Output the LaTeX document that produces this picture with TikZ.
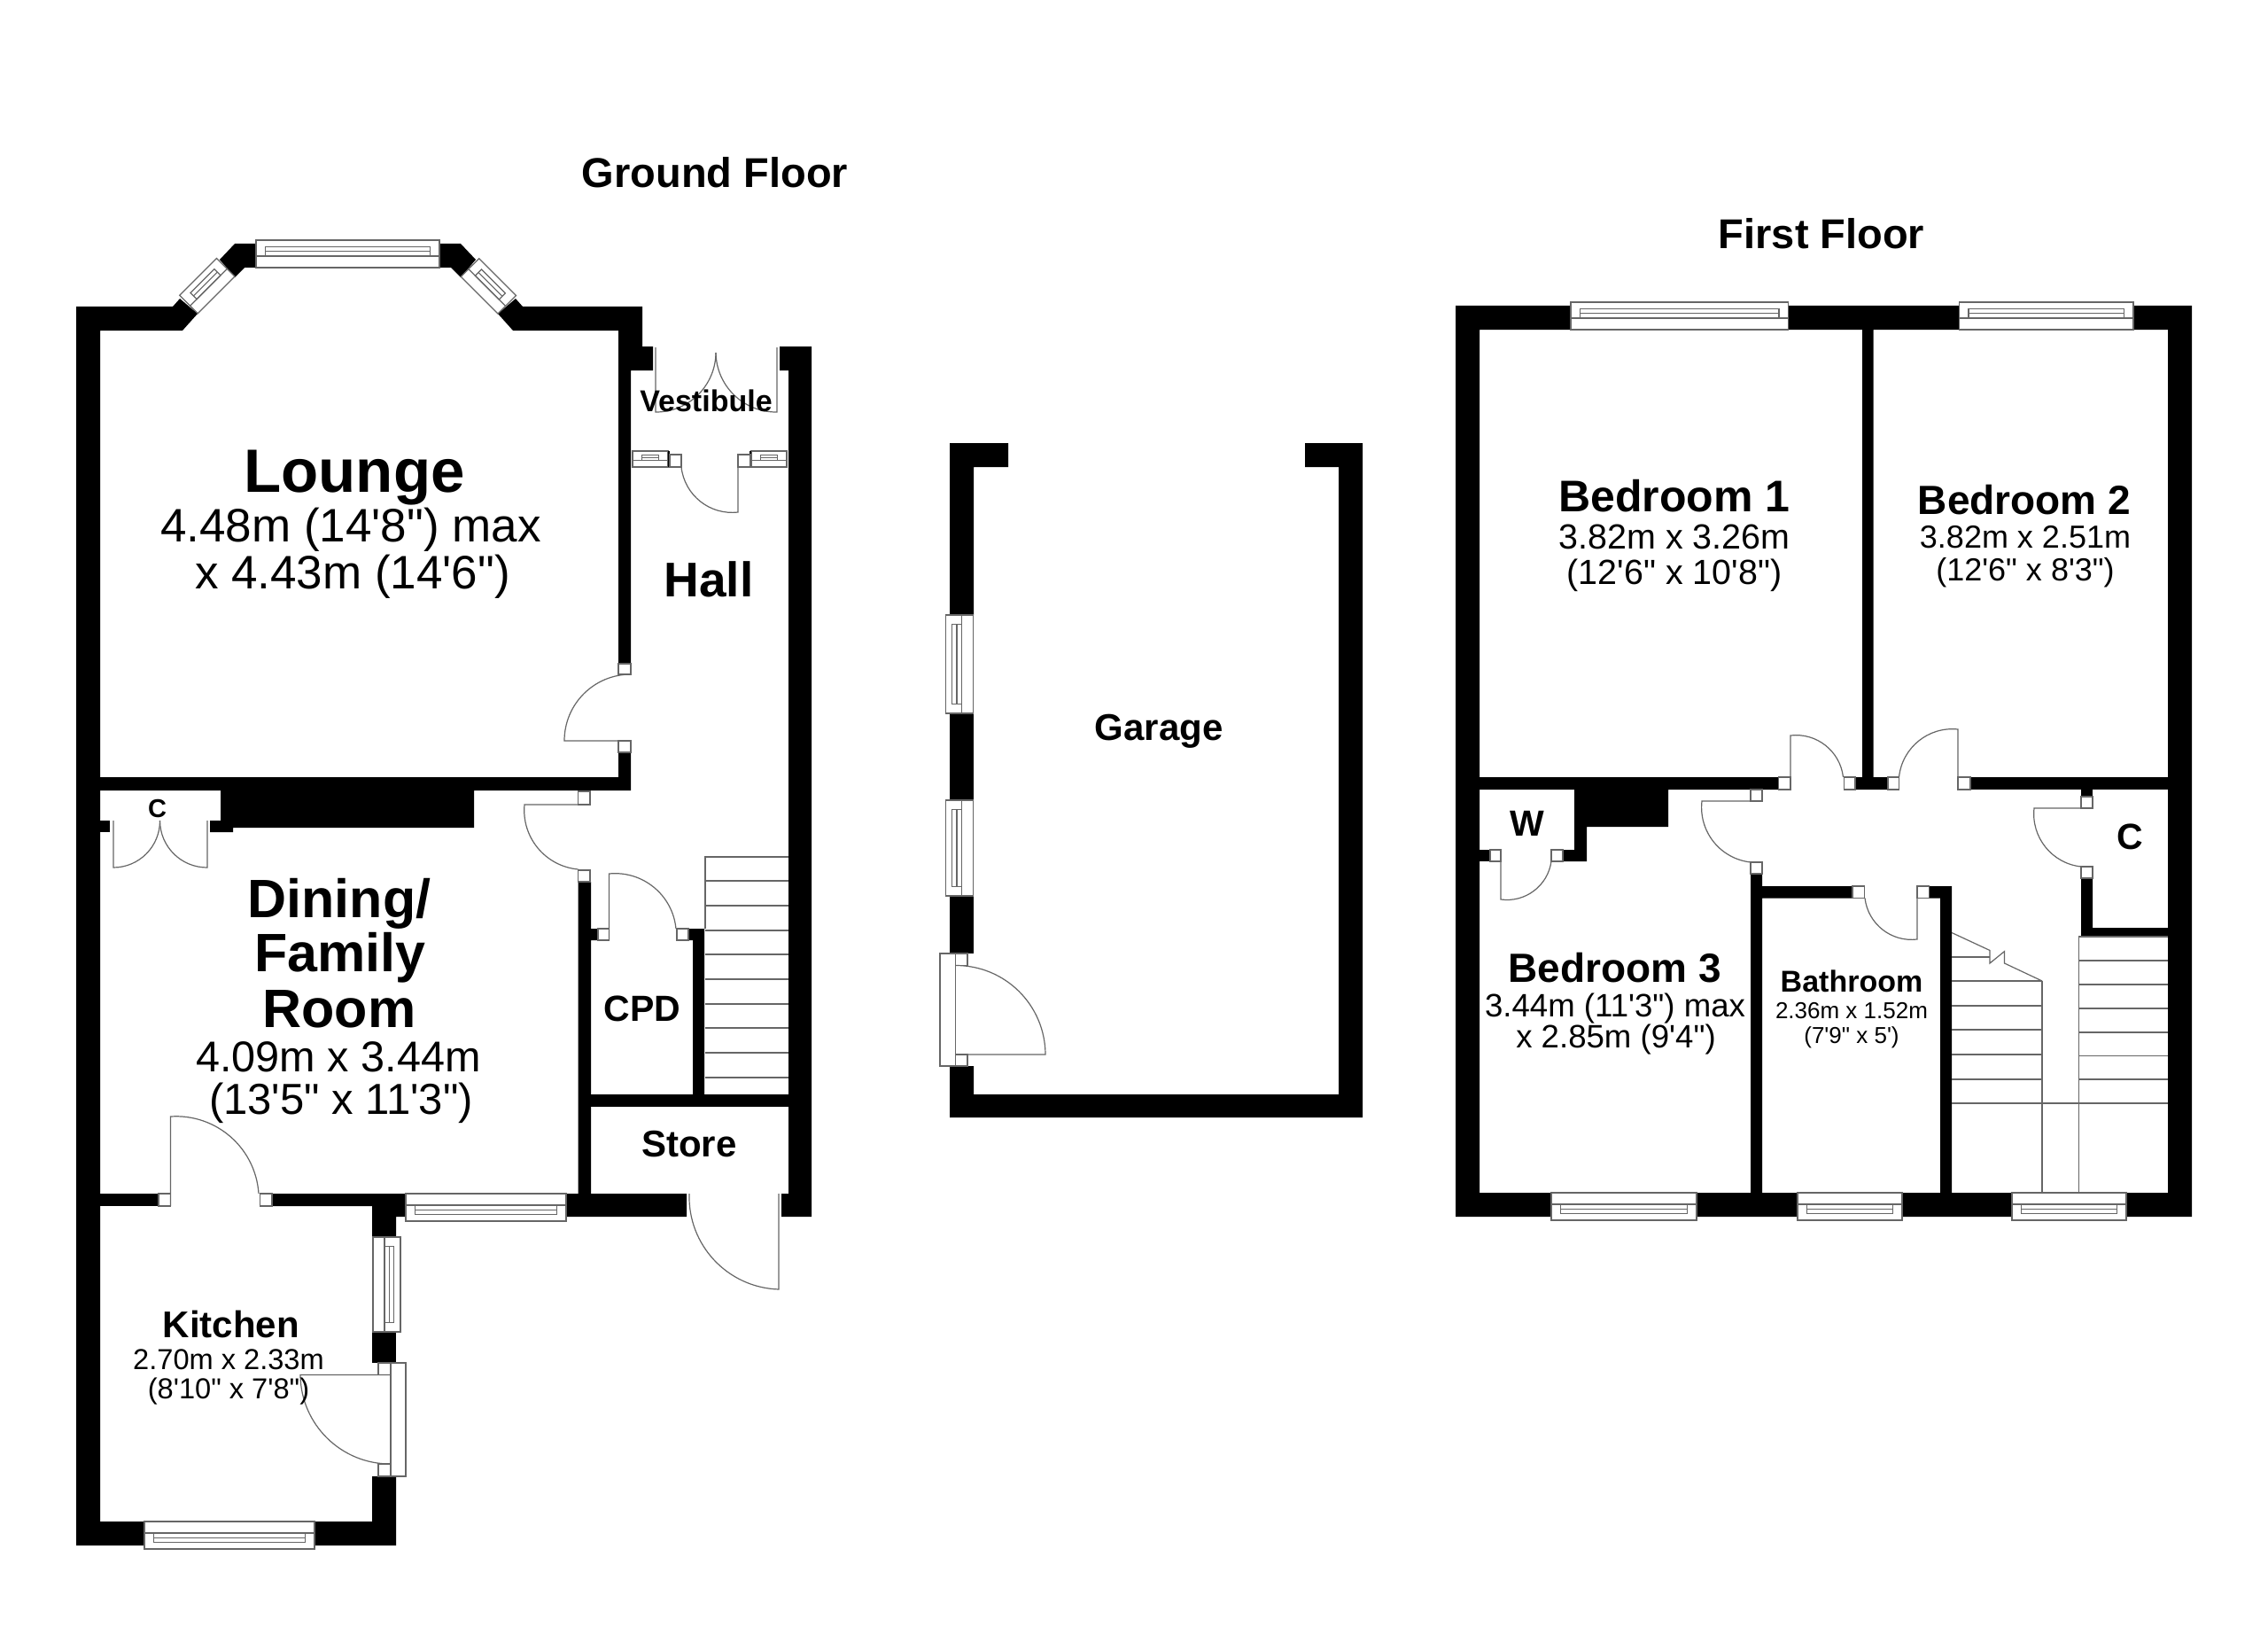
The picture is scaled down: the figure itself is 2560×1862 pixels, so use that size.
\documentclass[tikz,border=0pt]{standalone}
\usepackage{fontspec}
\setmainfont{Liberation Sans}[Ligatures=TeXOff]
\tikzset{
	wall/.style={fill=black},
	wline/.style={draw=black!60,line width=.6pt},
	jamb/.style={wline,fill=white},
	roomname/.style={anchor=base,inner sep=0pt,font=\bfseries\fontsize{#1}{#1}\selectfont},
	roomdim/.style={anchor=base,inner sep=0pt,font=\fontsize{#1}{#1}\selectfont},
	window/.pic={
		\tikzset{/win/.cd,#1}
		\draw[jamb] (0,0) rectangle (\winlen,\windep);
		\draw[wline] (0,.42*\windep) -- (\winlen,.42*\windep);
		\draw[wline] (10.5,.42*\windep) rectangle (\winlen-10.5,.77*\windep);
		\draw[wline] (10.5,.6*\windep) -- (\winlen-10.5,.6*\windep);
	},
	/win/.cd,
	len/.store in=\winlen,
	dep/.store in=\windep,
	len=100,
	dep=31,
}
\begin{document}
\begin{tikzpicture}[x=.5pt,y=-.5pt]
\useasboundingbox[fill=white] (0,0) rectangle (2560,1862);
\fill[wall] (86,346) -- (195,346) -- (203,337) -- (223,354) -- (206,373) -- (113,373) -- (113,1717) -- (163,1717) -- (163,1744) -- (86,1744) -- cycle;
\fill[wall] (248,293) -- (265,275) -- (289,275) -- (289,302) -- (276,302) -- (265,313) -- cycle;
\fill[wall] (496,275) -- (520,275) -- (537,293) -- (520,313) -- (509,302) -- (496,302) -- cycle;
\fill[wall] (562,354) -- (582,337) -- (590,346) -- (725,346) -- (725,391) -- (737,391) -- (737,418) -- (712,418) -- (712,749) -- (698,749) -- (698,373) -- (579,373) -- cycle;
\fill[wall] (113,877) -- (698,877) -- (698,849) -- (712,849) -- (712,892) -- (535,892) -- (535,934) -- (263,934) -- (263,939) -- (237,939) -- (237,926) -- (249,926) -- (249,892) -- (113,892) -- cycle;
\fill[wall] (113,926) rectangle (124,939);
\fill[wall] (652.5,995) -- (667,995) -- (667,1048) -- (675,1048) -- (675,1061) -- (667,1061) -- (667,1347) -- (775,1347) -- (775,1373) -- (639,1373) -- (639,1347) -- (652.5,1347) -- cycle;
\fill[wall] (667,1235) rectangle (890,1249);
\fill[wall] (777,1048) -- (795,1048) -- (795,1235) -- (782,1235) -- (782,1061) -- (777,1061) -- cycle;
\fill[wall] (880,391) -- (916,391) -- (916,1373) -- (882,1373) -- (882,1347) -- (890,1347) -- (890,418) -- (880,418) -- cycle;
\fill[wall] (113,1347) rectangle (179,1361);
\fill[wall] (307,1347) -- (458,1347) -- (458,1373) -- (447,1373) -- (447,1396) -- (420,1396) -- (420,1361) -- (307,1361) -- cycle;
\fill[wall] (420,1503) rectangle (447,1538);
\fill[wall] (420,1666) -- (447,1666) -- (447,1744) -- (355,1744) -- (355,1717) -- (420,1717) -- cycle;
\fill[wall] (1072,500) -- (1138,500) -- (1138,527) -- (1099,527) -- (1099,694) -- (1072,694) -- cycle;
\fill[wall] (1072,805) rectangle (1099,903);
\fill[wall] (1072,1011) rectangle (1099,1076);
\fill[wall] (1072,1203) -- (1099,1203) -- (1099,1235) -- (1511,1235) -- (1511,527) -- (1473,527) -- (1473,500) -- (1538,500) -- (1538,1261) -- (1072,1261) -- cycle;
\fill[wall] (1643,345) -- (1773,345) -- (1773,372) -- (1670,372) -- (1670,1346) -- (1751,1346) -- (1751,1373) -- (1643,1373) -- cycle;
\fill[wall] (2018.5,345) -- (2211.5,345) -- (2211.5,372) -- (2114.5,372) -- (2114.5,877) -- (2130,877) -- (2130,891) -- (2094,891) -- (2094,877) -- (2102,877) -- (2102,372) -- (2018.5,372) -- cycle;
\fill[wall] (2400,1346) -- (2447,1346) -- (2447,372) -- (2408,372) -- (2408,345) -- (2474,345) -- (2474,1373) -- (2400,1373) -- cycle;
\fill[wall] (1670,877) -- (2007.5,877) -- (2007.5,891) -- (1883,891) -- (1883,933) -- (1791,933) -- (1791,972) -- (1764,972) -- (1764,959) -- (1777,959) -- (1777,891) -- (1670,891) -- cycle;
\fill[wall] (1670,959) rectangle (1682,972);
\fill[wall] (2224,877) rectangle (2447,891);
\fill[wall] (1915,1346) -- (1976,1346) -- (1976,986) -- (1989,986) -- (1989,1000) -- (2091,1000) -- (2091,1013.5) -- (1989,1013.5) -- (1989,1346) -- (2029,1346) -- (2029,1373) -- (1915,1373) -- cycle;
\fill[wall] (2147,1346) -- (2190,1346) -- (2190,1013.5) -- (2177.5,1013.5) -- (2177.5,1000) -- (2203,1000) -- (2203,1346) -- (2271,1346) -- (2271,1373) -- (2147,1373) -- cycle;
\fill[wall] (2349,891) rectangle (2362,899);
\fill[wall] (2349,991) -- (2362,991) -- (2362,1047) -- (2447,1047) -- (2447,1057) -- (2349,1057) -- cycle;

\pic[rotate=180] at (496,302) {window={len=207}};
\pic[rotate=-135] at (265,312) {window={len=59,dep=29}};
\pic[rotate=135] at (562,354) {window={len=59,dep=29}};
\pic[rotate=180] at (754,527) {window={len=40,dep=18}};
\pic[rotate=180] at (888,527) {window={len=40,dep=18}};
\pic at (458,1347) {window={len=181}};
\pic[rotate=90] at (421,1503) {window={len=107}};
\pic at (163,1717) {window={len=192}};
\pic[rotate=-90] at (1098.5,694) {window={len=111}};
\pic[rotate=-90] at (1098.5,903) {window={len=108}};
\pic[rotate=180] at (2018.5,372) {window={len=245.5}};
\pic[rotate=180] at (2408,372) {window={len=196.5}};
\pic at (1751,1346) {window={len=164}};
\pic at (2029,1346) {window={len=118}};
\pic at (2271,1346) {window={len=129}};

\fill[wall] (754,509) rectangle (756,527);
\fill[wall] (846,509) rectangle (848,527);
\draw[jamb] (756,513) rectangle (769,527);
\draw[jamb] (833,513) rectangle (847,527);
\draw[wline] (769,527) to[bend right=45] (833,578) -- (833,527);
\draw[wline] (740,392) -- (740,465) to[bend right=45] (808,398);
\draw[wline] (877,392) -- (877,465) to[bend left=45] (808,398);
\draw[jamb] (698,749) rectangle (712,761);
\draw[jamb] (698,836) rectangle (712,849);
\draw[wline] (712,761) to[bend right=45] (637,836) -- (712,836);
\draw[wline] (128,926) -- (128,979) to[bend right=45] (180.5,926);
\draw[wline] (234,926) -- (234,979) to[bend left=45] (180.5,926);
\draw[jamb] (652.5,893) rectangle (666,908);
\draw[jamb] (652.5,982) rectangle (666,995);
\draw[wline] (666,908) -- (592,908) to[bend right=45] (652.5,981);
\draw[jamb] (675,1048) rectangle (687.5,1061);
\draw[jamb] (764,1048) rectangle (777,1061);
\draw[wline] (687.5,1061) -- (687.5,986) to[bend left=45] (763,1048);
\draw[wline] (796,1048) -- (796,967) -- (890,967)
	(796,994) -- (890,994) (796,1022) -- (890,1022)
	(796,1050) -- (890,1050) (796,1077) -- (890,1077)
	(796,1105) -- (890,1105) (796,1133) -- (890,1133)
	(796,1160) -- (890,1160) (796,1188) -- (890,1188)
	(796,1216) -- (890,1216);
\draw[jamb] (179,1347) rectangle (192.5,1361);
\draw[jamb] (293.5,1347) rectangle (307,1361);
\draw[wline] (192.5,1361) -- (192.5,1260) to[bend left=45] (292,1347);
\draw[wline] (778,1347) to[bend right=45] (879,1455) -- (879,1347);
\draw[jamb] (441,1538) rectangle (458,1666);
\draw[jamb] (427,1538) rectangle (441,1551.5);
\draw[jamb] (427,1652) rectangle (441,1666);
\draw[wline] (441,1551.5) -- (339,1551.5) to[bend right=45] (441,1652);
\draw[jamb] (1061,1076) rectangle (1078.5,1203);
\draw[jamb] (1078.5,1076) rectangle (1092,1089.5);
\draw[jamb] (1078.5,1190) rectangle (1092,1203);
\draw[wline] (1078.5,1089.5) to[bend left=45] (1180,1190) -- (1078.5,1190);

\draw[jamb] (2007.5,877) rectangle (2021,891);
\draw[jamb] (2081.5,877) rectangle (2094,891);
\draw[wline] (2021,891) -- (2021,830) to[bend left=45] (2080.5,877);
\draw[jamb] (2131,877) rectangle (2143.5,891);
\draw[jamb] (2210,877) rectangle (2224,891);
\draw[wline] (2143.5,877) to[bend left=45] (2210,823) -- (2210,891);
\draw[jamb] (1682,959) rectangle (1694,972);
\draw[jamb] (1751,959) rectangle (1764,972);
\draw[wline] (1694,972) -- (1694,1015) to[bend right=45] (1751,972);
\draw[jamb] (1976,891) rectangle (1989,904);
\draw[jamb] (1976,973) rectangle (1989,986);
\draw[wline] (1989,904) -- (1921,904) to[bend right=45] (1976,973);
\draw[jamb] (2091,1000) rectangle (2104.5,1013.5);
\draw[jamb] (2164,1000) rectangle (2177.5,1013.5);
\draw[wline] (2105,1013.5) to[bend right=45] (2164,1060) -- (2164,1013.5);
\draw[jamb] (2349,899) rectangle (2362,912);
\draw[jamb] (2349,978) rectangle (2362,991);
\draw[wline] (2362,912) -- (2296,912) to[bend right=45] (2349,978);
\draw[wline] (2346.5,1346) -- (2346.5,1057) -- (2447,1057)
	(2346.5,1084) -- (2447,1084) (2346.5,1111) -- (2447,1111)
	(2346.5,1138) -- (2447,1138) (2346.5,1165) -- (2447,1165)
	(2346.5,1191.5) -- (2447,1191.5) (2346.5,1218) -- (2447,1218)
	(2203,1245) -- (2447,1245);
\draw[wline] (2203,1080) -- (2246,1080)
	(2203,1107) -- (2305,1107) (2203,1135) -- (2305,1135)
	(2203,1162) -- (2305,1162) (2203,1190) -- (2305,1190)
	(2203,1218) -- (2305,1218) (2305,1107) -- (2305,1346);
\draw[wline] (2203,1052.5) -- (2246,1072.5) -- (2246,1087) -- (2262.5,1073.6) -- (2262.5,1087) -- (2305,1107);

\node[roomname=23.5] (groundtitle) at (807,212) {Ground Floor};
\node[roomname=23.5] (firsttitle) at (2056,281) {First Floor};
\node[roomname=34.5] (lounge) at (400,555) {Lounge};
\node[roomdim=26.5] (loungea) at (396,611.5) {4.48m (14'8") max};
\node[roomdim=26.5] (loungeb) at (398,664) {x 4.43m (14'6")};
\node[roomname=27.5] (hall) at (800,673) {Hall};
\node[roomname=17] (vestibule) at (797,464.5) {Vestibule};
\node[roomname=14.5] (cupa) at (177.5,922) {C};
\node[roomname=30.5] (dininga) at (383,1035) {Dining/};
\node[roomname=30.5] (diningb) at (384,1096.5) {Family};
\node[roomname=30.5] (diningc) at (383,1159) {Room};
\node[roomdim=24.3] (diningd) at (382,1209) {4.09m x 3.44m};
\node[roomdim=24.5] (dininge) at (385,1257.5) {(13'5" x 11'3")};
\node[roomname=20.5] (cpd) at (725,1152) {CPD};
\node[roomname=21] (store) at (778,1305) {Store};
\node[roomname=21] (kitchen) at (261,1509) {Kitchen};
\node[roomdim=16.3] (kitchena) at (258,1545) {2.70m x 2.33m};
\node[roomdim=16.3] (kitchenb) at (258,1578) {(8'10" x 7'8")};
\node[roomname=21] (garage) at (1308,835) {Garage};
\node[roomname=25] (bedonea) at (1890,577.5) {Bedroom 1};
\node[roomdim=19.7] (bedoneb) at (1890,619) {3.82m x 3.26m};
\node[roomdim=19.7] (bedonec) at (1890,659) {(12'6" x 10'8")};
\node[roomname=23] (bedtwoa) at (2285,580) {Bedroom 2};
\node[roomdim=18] (bedtwob) at (2286,618) {3.82m x 2.51m};
\node[roomdim=18] (bedtwoc) at (2286,655) {(12'6" x 8'3")};
\node[roomname=20.5] (ward) at (1724,943.5) {W};
\node[roomname=20.5] (cupb) at (2404,958) {C};
\node[roomname=23] (bedthreea) at (1822.5,1108) {Bedroom 3};
\node[roomdim=18.3] (bedthreeb) at (1823,1147) {3.44m (11'3") max};
\node[roomdim=18.3] (bedthreec) at (1824,1182.5) {x 2.85m (9'4")};
\node[roomname=17] (batha) at (2090,1119.5) {Bathroom};
\node[roomdim=13] (bathb) at (2090,1149.5) {2.36m x 1.52m};
\node[roomdim=13] (bathc) at (2090,1177) {(7'9" x 5')};
\end{tikzpicture}
\end{document}
